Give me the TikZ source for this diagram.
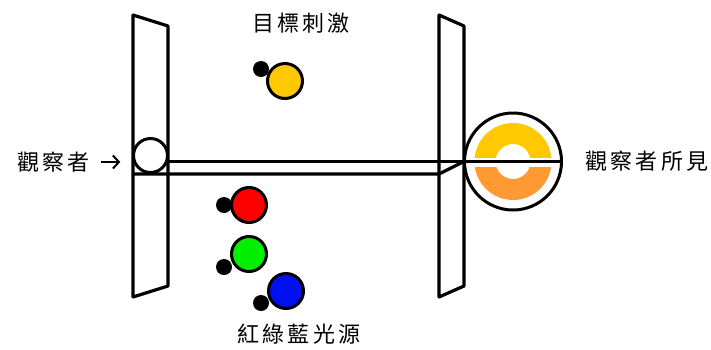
\documentclass[tikz,border=0pt]{standalone}
\usepackage{fontspec}
\setmainfont{Noto Sans CJK TC}
\usetikzlibrary{positioning,arrows.meta}

\definecolor{lampyellow}{HTML}{FFC800}
\definecolor{lamporange}{HTML}{FF9A33}
\definecolor{lampred}{HTML}{FF0000}
\definecolor{lampgreen}{HTML}{00F000}
\definecolor{lampblue}{HTML}{0010F0}

\begin{document}
\begin{tikzpicture}[
        x=1pt, y=-1pt,
        panel/.style={draw, line width=3.2pt, line join=round, fill=white},
        beam/.style={draw, line width=3.2pt},
        lamp/.style={circle, draw, line width=3pt, minimum size=35pt, inner sep=0pt},
        dot/.style={circle, fill=black, minimum size=16pt, inner sep=0pt},
        caption/.style={inner sep=0pt, font=\fontsize{22}{22}\selectfont\addfontfeature{LetterSpace=15}},
        arrow/.style={-{Straight Barb[length=6pt,width=13pt]}, line width=2pt}
    ]
\useasboundingbox (0,0) rectangle (711,349);

% Screens
        \draw[panel] (133,15) -- (168,26) -- (168,286) -- (133,297) -- cycle;
        \draw[panel] (439,15) -- (464,26) -- (464,286) -- (439,297) -- cycle;

% What the viewer sees
        \node[circle, draw, line width=3pt, minimum size=97pt, inner sep=0pt] (view) at (513,161.5) {};
        \begin{scope}
            \clip (470,118) rectangle (560,157);
            \fill[lampyellow, even odd rule] (view.center) circle (38.5) circle (17.5);
        \end{scope}
        \begin{scope}
            \clip (470,167) rectangle (560,205);
            \fill[lamporange, even odd rule] (view.center) circle (38.5) circle (17.5);
        \end{scope}

% Tube
        \node[circle, minimum size=34pt, inner sep=0pt] (eye) at (150.5,155.5) {};
        \coordinate (tubestart) at (133,174);
        \coordinate (tubeend) at (439,174);
        \coordinate (tubejoin) at (464,161.5);
        \draw[beam] (eye.east |- view.center) -- (view.east);
        \draw[beam, line join=round] (tubestart) -- (tubeend) -- (tubejoin);
        \node[circle, draw, fill=white, line width=3pt, minimum size=34pt, inner sep=0pt] at (eye) {};

% Lamps
        \node[dot] (ydot) at (261,69) {};
        \node[lamp, fill=lampyellow] (ylamp) at (285,81) {};
        \node[dot] (rdot) at (224,205) {};
        \node[lamp, fill=lampred] (rlamp) at (249,205) {};
        \node[dot] (gdot) at (224,267) {};
        \node[lamp, fill=lampgreen] (glamp) at (249,254) {};
        \node[dot] (bdot) at (261,303) {};
        \node[lamp, fill=lampblue] (blamp) at (286,291) {};

% Labels
        \node[caption] (target) at (301,23) {目標刺激};
        \node[caption] (sources) at (299,334) {紅綠藍光源};
        \node[caption, anchor=east] (viewer) at (90,162) {觀察者};
        \node[caption, right=22pt of view] (seen) {觀察者所見};
        \draw[arrow, shorten <=11pt, shorten >=13pt] (viewer.east) -- (viewer.east -| eye.west);
    \end{tikzpicture}
\end{document}
